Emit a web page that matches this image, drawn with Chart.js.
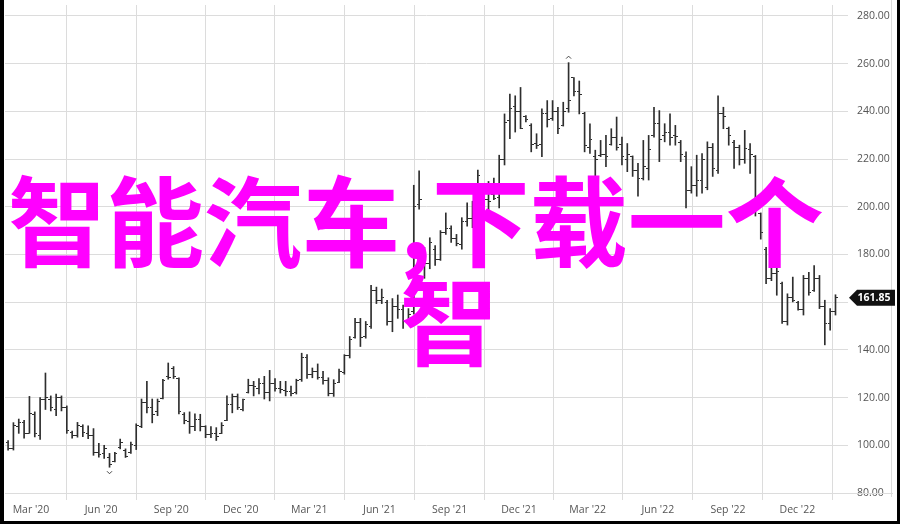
<!DOCTYPE html>
<html>
<head>
<meta charset="utf-8">
<script src="https://cdn.jsdelivr.net/npm/chart.js@4.4.1/dist/chart.umd.min.js"></script>
<style>
  body { margin: 0; background: #fff; }
  #wrap { position: relative; width: 900px; height: 524px; overflow: hidden; }
  #frame { position: absolute; left: 0; top: 0; width: 900px; height: 524px; box-sizing: border-box;
           border-left: 4px solid #000; border-right: 3px solid #000; border-bottom: 3px solid #000; pointer-events: none; }
  .big { position: absolute; color: #ff00ff; font-family: "Noto Sans CJK SC"; font-weight: 700;
         font-size: 98px; line-height: 98px; white-space: nowrap; }
</style>
</head>
<body>
<div id="wrap">
  <canvas id="chart" width="900" height="524"></canvas>
  <div class="big" style="left:8px;top:167px">智能汽车,下载一个</div>
  <div class="big" style="left:400px;top:266px">智</div>
  <div id="frame"></div>
</div>
<script>
// weekly bars, first week ending 2020-01-31
const firstWeek = Date.UTC(2020, 0, 31);
const opens = [101,98.5,108,109.5,105,113,104,119,119,115,120,116,105.5,104,108,105,104,97,96.5,95,
  93,99,98,97,100,108,118,116,114,119.5,129,132,128,113,110,108,111,108,104.5,105,
  105,110.5,117,120.5,115,122,125,124,126,122,126,124,123,122.5,122,127.5,137,129.5,131,128.5,
  127,121.5,126.5,130.5,137.5,145,151.5,145.5,150,165,160.5,160,152,158,157,152,156,201,182,176,
  182,178,189,191,186.5,184,194,195,206,207,203,205,204,220,236,242,240,238,234,226.5,
  226,239,237,240,234,241,254,248.5,239,225,221,221.5,222,226,229,226,220,221,215,212,
  216,230,235,230,231,230,227,221,207,209,211,208,225,215,239,233,227,225,220,224,
  221,197,182,170,172,168,152,162,160,157,170,165,170,158,151,156];
const highs = [102,109.5,111,110.5,120.5,114,120,130.3,120.7,121.5,120.7,116.5,106,109.6,108.6,108.2,107,100.8,100,96.6,
  97.1,102.6,98.5,101.3,109,119.4,126.8,119.4,119.4,127.7,134.5,133,128.3,113.7,114,113.2,113,108.2,107.8,107.4,
  109.5,120.7,121.5,121.5,119.4,127.7,126.8,128,128.9,131.4,128,126.8,126.8,124.8,127.7,138.6,138,132.4,134.1,131,
  128.3,127.5,131.9,138,145.6,153.2,153.2,151.9,167,166.3,165.5,160.8,161.5,163,158.8,157.3,209,215,183,187,
  183.7,190,197.4,192,188.4,195.4,201.6,202.3,215.4,208.5,210.6,212,221.6,238.9,247.2,246.5,250,238.2,234.8,230.6,
  241,244.5,244.5,241.7,243.8,260.4,254.1,252.7,239.6,234.8,223.7,227.8,229.9,232.7,237.6,229.2,226.5,221.3,218.2,227.8,
  229.9,241.7,240.3,234.8,238.9,234.1,227.8,223,216.8,221.6,222.3,227.2,226.5,246.5,241.7,233.4,227.8,225.8,232,226.5,
  221.5,197.4,183,176,176.7,168.4,163.5,170.5,160.3,171.2,172.5,175.3,171.2,160.8,157.3,163.1];
const lows = [98,98,105,103,105,103.5,102.5,115,114.4,112.4,114.4,105,103,103.4,103.6,102.8,95.8,95,94.5,90.8,
  93,98.5,94.9,96.6,98.2,107.4,113.6,109.4,112.4,119.4,127.7,128,113.2,109,105,106.1,106,103.2,103.2,102,
  104.9,110.3,113.6,115,114.4,121.9,120.7,121.5,119.4,118.6,122.7,121.9,120.7,120.7,121.5,126.8,128,128.3,127.7,125.6,
  120.7,120.5,126.2,129.8,136.6,144.9,141.4,144.9,149,159.4,159.4,150.4,147.6,153.2,149,151,155,199,170,174,
  175.4,177.5,188.4,185,183.6,182.2,191.9,191.2,205.7,198.8,198.1,203,199.5,217.5,228.5,231.3,232.7,235.5,223,224.4,
  221,233.4,236.2,230.6,233.8,239.6,246.5,238.9,223,222.3,211.2,221,216.8,225.8,223.7,217.5,214.7,212.7,204.4,211.2,
  211.2,229.2,218.9,227.2,225.8,225.8,218.9,199.5,205.7,204.4,205.7,207.1,212.7,214,232.7,225.8,216.1,217.5,218.2,214,
  196.1,186.4,167.7,169,162.9,151.1,150.4,160.1,156.6,154.6,162.9,164.5,157.3,142.1,148.3,154.6];
const closes = [98.5,108.5,109.5,105,113.5,105,119,120,116,120,116,106,104,108.5,105.5,104,97,96,98.5,92,
  96.5,101,95.5,100.5,108.5,118,116,113,118.5,127,128.5,129,114,110.5,108,111,108,104.5,105,103.5,
  108.5,117,120.5,116,119,125,124.5,126,122,126,124,123.5,122.5,121.5,127,137,129.5,131,128.5,127,
  121.5,126,131,137.5,144.5,151.5,145,150.5,165,160.5,162,152,158,157,152,155,200,203,176,185,
  178,189,191,186.5,184.5,194,195,201,213,203,202,203.5,220,235.5,241,240,232.8,236.5,226,225.5,
  239,236.5,240,233,240,244.5,248.5,247,225.5,228,220,222,221,229,225,221,222,215,212,217,
  224,235,228,231,229,229.5,222,207,209,211,220,225,216,239,238,230,225,220,224.5,222,
  200,189,170,172,173,152,162,160.5,157,170,164,170,158,151,156,161.85];

const xTickDates = ['2020-03-01','2020-06-01','2020-09-01','2020-12-01','2021-03-01','2021-06-01',
  '2021-09-01','2021-12-01','2022-03-01','2022-06-01','2022-09-01','2022-12-01'];
const xTickLabels = ["Mar '20","Jun '20","Sep '20","Dec '20","Mar '21","Jun '21",
  "Sep '21","Dec '21","Mar '22","Jun '22","Sep '22","Dec '22"];
const yTicks = [80, 100, 120, 140, 160, 180, 200, 220, 240, 260, 280];

const dayZero = Date.UTC(2020, 0, 1);
const toDay = t => (t - dayZero) / 86400000;
const days = highs.map((h, i) => toDay(firstWeek + i * 7 * 86400000));
const tickDays = xTickDates.map(d => toDay(Date.parse(d + 'T00:00:00Z')));

const barColor = '#2e2e2e';
const gridColor = '#dcdcdc';

function tickImage(side) {
  const c = document.createElement('canvas');
  c.width = 5; c.height = 1;
  const g = c.getContext('2d');
  g.fillStyle = barColor;
  if (side === 'left') g.fillRect(0, 0, 2, 1); else g.fillRect(3, 0, 2, 1);
  return c;
}

const extras = {
  id: 'extras',
  afterDraw(chart) {
    const { ctx, chartArea, scales } = chart;
    const x = scales.x, y = scales.y;
    ctx.save();
    // bottom line runs under the price axis, right frame line
    ctx.strokeStyle = gridColor;
    ctx.lineWidth = 1;
    const yb = Math.round(y.getPixelForValue(80)) + 0.5;
    ctx.beginPath();
    ctx.moveTo(chartArea.left, yb); ctx.lineTo(893, yb);
    ctx.moveTo(891.5, 0); ctx.lineTo(891.5, 497);
    ctx.stroke();

    // high / low markers
    let hi = 0, lo = 0;
    highs.forEach((v, i) => { if (v > highs[hi]) hi = i; });
    lows.forEach((v, i) => { if (v < lows[lo]) lo = i; });
    ctx.strokeStyle = '#444';
    const hx = x.getPixelForValue(days[hi]), hy = y.getPixelForValue(highs[hi]) - 4;
    ctx.beginPath();
    ctx.moveTo(hx - 2.5, hy); ctx.lineTo(hx, hy - 2.5); ctx.lineTo(hx + 2.5, hy);
    ctx.stroke();
    const lx = x.getPixelForValue(days[lo]), ly = y.getPixelForValue(lows[lo]) + 4;
    ctx.beginPath();
    ctx.moveTo(lx - 2.5, ly); ctx.lineTo(lx, ly + 2.5); ctx.lineTo(lx + 2.5, ly);
    ctx.stroke();

    // last price tag
    const last = closes[closes.length - 1];
    const py = y.getPixelForValue(last);
    const left = chartArea.right + 1;
    ctx.fillStyle = '#111';
    ctx.beginPath();
    ctx.moveTo(left, py);
    ctx.lineTo(left + 8, py - 8);
    ctx.lineTo(895, py - 8);
    ctx.lineTo(895, py + 8);
    ctx.lineTo(left + 8, py + 8);
    ctx.closePath();
    ctx.fill();
    ctx.fillStyle = '#fff';
    ctx.font = 'bold 10.5px "Open Sans"';
    ctx.textAlign = 'center';
    ctx.textBaseline = 'middle';
    ctx.fillText(last.toFixed(2), 874, py + 0.5);
    ctx.restore();
  }
};

new Chart(document.getElementById('chart'), {
  type: 'bar',
  data: {
    datasets: [{
      data: highs.map((h, i) => ({ x: days[i], y: [lows[i], h] })),
      backgroundColor: barColor,
      borderWidth: 0,
      barThickness: 1,
      grouped: false,
      order: 2
    }, {
      type: 'line',
      data: opens.map((v, i) => ({ x: days[i], y: v })),
      showLine: false,
      pointStyle: tickImage('left'),
      pointRadius: 2,
      order: 1
    }, {
      type: 'line',
      data: closes.map((v, i) => ({ x: days[i], y: v })),
      showLine: false,
      pointStyle: tickImage('right'),
      pointRadius: 2,
      order: 1
    }]
  },
  options: {
    responsive: false,
    animation: false,
    events: [],
    layout: { padding: { left: 4, right: 9, top: 0, bottom: 3 } },
    plugins: { legend: { display: false }, tooltip: { enabled: false } },
    scales: {
      x: {
        type: 'linear',
        min: 25.95,
        max: 1131.4,
        offset: false,
        afterBuildTicks: s => { s.ticks = tickDays.map(v => ({ value: v })); },
        afterFit: s => { s.height = 28; s.paddingLeft = 0; s.paddingRight = 0; },
        grid: { color: gridColor, lineWidth: 1, tickLength: 7, drawTicks: true },
        border: { display: false },
        ticks: {
          autoSkip: false,
          maxRotation: 0,
          padding: 4,
          color: '#555',
          font: { family: 'Open Sans', size: 10.5 },
          callback: (v, i) => xTickLabels[i]
        }
      },
      y: {
        position: 'right',
        min: 80,
        max: 284.56,
        afterBuildTicks: s => { s.ticks = yTicks.map(v => ({ value: v })); },
        afterFit: s => { s.width = 43; s.paddingTop = 0; s.paddingBottom = 0; },
        grid: { color: gridColor, lineWidth: 1, drawTicks: false },
        border: { display: false },
        ticks: {
          padding: 9,
          color: '#555',
          font: { family: 'Open Sans', size: 10.5 },
          callback: v => Number(v).toFixed(2)
        }
      }
    }
  },
  plugins: [extras]
});
</script>
</body>
</html>
